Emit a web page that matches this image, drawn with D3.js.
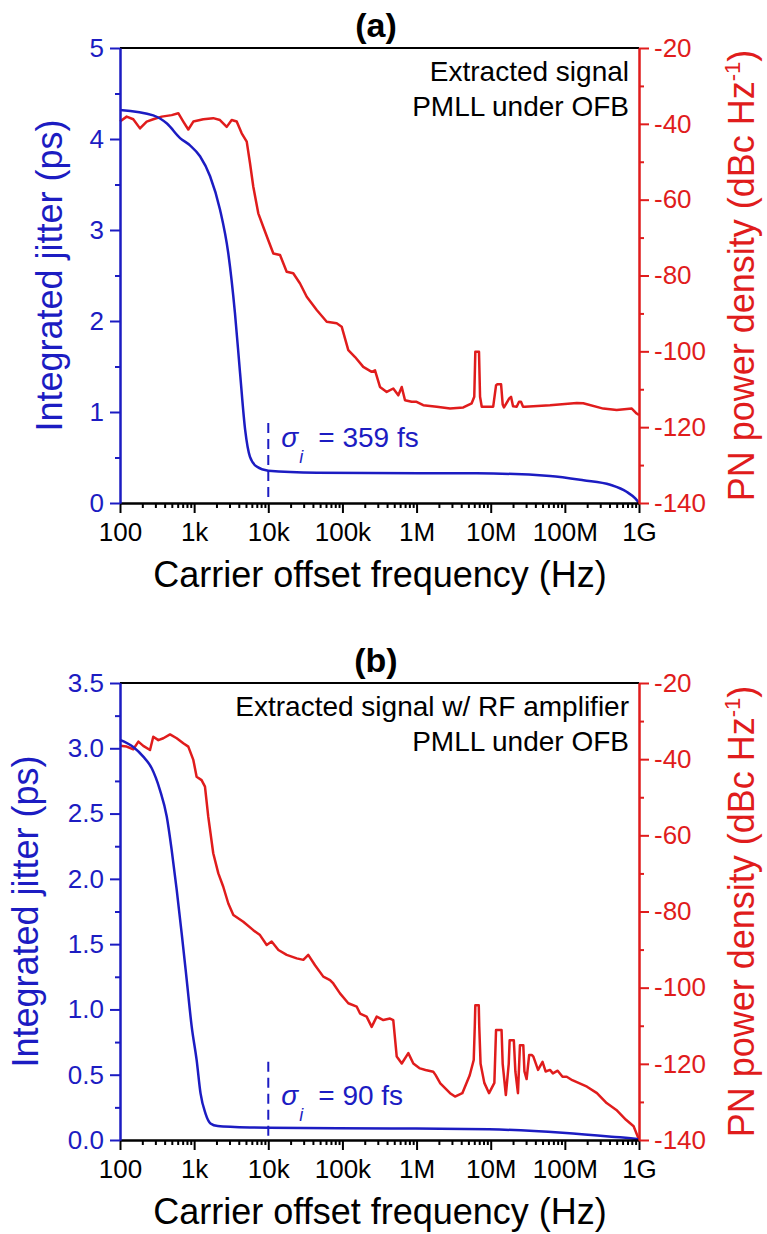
<!DOCTYPE html>
<html>
<head>
<meta charset="utf-8">
<script src="https://cdn.jsdelivr.net/npm/d3@7"></script>
<style>
  body { margin: 0; background: #fff; }
  text { font-family: 'Liberation Sans', Arial, sans-serif; }
</style>
</head>
<body>
<div id="chart"></div>
<script>
// x axis (carrier offset frequency, Hz)
const xTickValues = [1e2, 1e3, 1e4, 1e5, 1e6, 1e7, 1e8, 1e9]
const xTickLabels = ['100', '1k', '10k', '100k', '1M', '10M', '100M', '1G']
const pnTicks = [-140, -120, -100, -80, -60, -40, -20]

// panel (a): [frequency Hz, integrated jitter ps]
const jitterA = [
  [100, 4.32], [281, 4.26], [430, 4.17], [646, 4.01], [880, 3.93], [1200, 3.81],
  [1640, 3.59], [2240, 3.22], [2880, 2.75], [3550, 2.09], [4160, 1.43], [4880, 0.80],
  [5650, 0.51], [6970, 0.40], [1e4, 0.355], [4.5e4, 0.333], [1.1e6, 0.326],
  [6.5e6, 0.326], [6.3e7, 0.297], [1.78e8, 0.25], [4.1e8, 0.20], [6.8e8, 0.124],
  [8.9e8, 0.05], [1e9, 0]
]

// panel (a): [frequency Hz, PN dBc/Hz]
const pnA = [
  [100, -39.4], [123, -38.1], [151, -38.8], [186, -41.2], [229, -39.4], [281, -38.8],
  [365, -38.1], [427, -37.9], [498, -37.7], [611, -37.2], [714, -39.4], [834, -41.5],
  [975, -39.4], [1330, -38.8], [1810, -38.5], [2230, -39.0], [2750, -40.8], [3210, -39.0],
  [3750, -39.4], [4380, -42.5], [5120, -44.7], [5670, -50.4], [6280, -56.6], [7330, -63.6],
  [8570, -67.2], [1e4, -70.7], [11700, -74.2], [14400, -74.6], [17700, -79.0], [21700, -79.4],
  [26800, -82.1], [33000, -85.6], [45000, -89.1], [61400, -92.2], [83700, -92.6], [97700, -93.5],
  [1.2e5, -99.7], [1.48e5, -101.5], [1.91e5, -104.1], [2.48e5, -105.4], [2.75e5, -105],
  [3.21e5, -109.4], [3.96e5, -110.7], [4.85e5, -109.8], [5.67e5, -111.6], [6.31e5, -109.4],
  [6.98e5, -112.9], [8.59e5, -113.3], [1e6, -113.3], [1.23e6, -114.2], [1.87e6, -114.6],
  [2.83e6, -115.1], [4.27e6, -114.8], [5.54e6, -113.7], [6.0e6, -112], [6.2e6, -100.1],
  [6.95e6, -100.1], [7.18e6, -112], [7.57e6, -114.6], [1.08e7, -114.6], [1.18e7, -109],
  [1.22e7, -108.7], [1.38e7, -108.7], [1.45e7, -114], [1.51e7, -114.8], [1.77e7, -112.5],
  [1.88e7, -112], [2.0e7, -114.5], [2.24e7, -114.6], [2.41e7, -113.3], [2.56e7, -113.3],
  [2.73e7, -114.6], [2.9e7, -114.6], [6.3e7, -114.2], [1.45e8, -113.6], [1.77e8, -113.7],
  [3.3e8, -115.1], [5.0e8, -115.5], [8.0e8, -115.1], [9.3e8, -116.4], [1e9, -116.8]
]

// panel (b): [frequency Hz, integrated jitter ps]
const jitterB = [
  [100, 3.064], [151, 3.01], [206, 2.936], [268, 2.847], [346, 2.68], [427, 2.477],
  [498, 2.22], [582, 1.915], [679, 1.583], [794, 1.226], [927, 0.868], [1080, 0.613],
  [1220, 0.357], [1420, 0.204], [1660, 0.127], [2080, 0.107], [3530, 0.10], [10200, 0.094],
  [4.52e5, 0.089], [9.5e6, 0.082], [9.3e7, 0.056], [4.27e8, 0.025], [9.8e8, 0.005], [1e9, 0]
]

// panel (b): [frequency Hz, PN dBc/Hz]
const pnB = [
  [100, -36.5], [123, -36.7], [151, -37.4], [177, -35.4], [206, -36.5], [254, -37.6],
  [281, -34.1], [329, -35.0], [384, -34.5], [473, -33.5], [582, -34.5], [714, -35.8],
  [834, -36.7], [975, -40.2], [1080, -44.6], [1260, -45.5], [1400, -47.2], [1550, -55.1],
  [1810, -64.7], [2120, -70.0], [2470, -73.5], [2890, -77.9], [3380, -80.9], [4600, -82.7],
  [6280, -84.9], [7730, -86.2], [9520, -88.8], [11100, -87.9], [13700, -90.1], [17700, -91.4],
  [24200, -92.3], [29700, -92.7], [34600, -91.4], [42700, -94.1], [55200, -97.1], [68000, -98.0],
  [75300, -98.9], [92700, -101.5], [1.2e5, -104.1], [1.56e5, -105.0], [1.73e5, -106.8],
  [2.12e5, -107.6], [2.48e5, -110.3], [2.9e5, -107.6], [3.56e5, -108.5], [4.38e5, -108.1],
  [4.85e5, -108.5], [5.4e5, -118.1], [6.31e5, -119.9], [7.74e5, -117.2], [9.04e5, -119.9],
  [1.11e6, -121.2], [1.32e6, -121.6], [1.68e6, -122.1], [1.8e6, -122.9], [2.09e6, -125.1],
  [2.83e6, -127.7], [3.3e6, -128.6], [4.14e6, -127.7], [5.21e6, -123], [5.9e6, -119],
  [6.1e6, -110], [6.2e6, -104.6], [6.9e6, -104.6], [7.0e6, -110], [7.3e6, -120],
  [8.2e6, -125], [9.5e6, -127.7], [1.12e7, -125], [1.18e7, -111.1], [1.4e7, -111.1],
  [1.45e7, -120], [1.6e7, -128.2], [1.75e7, -120], [1.8e7, -113.8], [2.05e7, -113.8],
  [2.15e7, -122], [2.33e7, -127.7], [2.42e7, -120], [2.48e7, -115.1], [2.75e7, -115.1],
  [2.85e7, -122], [3.05e7, -124], [3.3e7, -117.7], [3.6e7, -117.7], [3.76e7, -118.1],
  [4.35e7, -121.6], [5.0e7, -119.5], [5.5e7, -122.0], [6.3e7, -121.6], [6.9e7, -122.5],
  [8.0e7, -121.8], [9.3e7, -123.4], [1.06e8, -123.4], [1.26e8, -124.3], [1.99e8, -126.0],
  [2.71e8, -127.7], [3.66e8, -130.3], [4.95e8, -132.1], [6.68e8, -134.7], [8.46e8, -136.4],
  [9.8e8, -139.5], [1e9, -140]
]

const blue = '#1c1cc2'
const red = '#e01c1c'

let svg = d3
  .select('#chart')
  .append('svg')
  .attr('width', 767)
  .attr('height', 1234)
  .style('background', '#fff')

let xPositionScale = d3
  .scaleLog()
  .domain([1e2, 1e9])
  .range([120, 639])

// minor ticks 2..9 in each decade
let xMinor = []
for (let e = 2; e < 9; e++) {
  for (let k = 2; k <= 9; k++) xMinor.push(k * Math.pow(10, e))
}

function styleAxis(g, color) {
  g.attr('font-family', null).attr('font-size', null)
  g.select('.domain').attr('stroke', color).attr('stroke-width', 2)
  g.selectAll('line').attr('stroke', color).attr('stroke-width', 2)
  g.selectAll('text').attr('fill', color).style('font-size', '26px')
}

function drawPanel(p) {
  let yLeft = d3.scaleLinear().domain([0, p.jitterMax]).range([p.bottom, p.top])
  let yRight = d3.scaleLinear().domain([-140, -20]).range([p.bottom, p.top])
  let g = svg.append('g')

  // curves
  let jitterLine = d3
    .line()
    .x(d => xPositionScale(d[0]))
    .y(d => yLeft(d[1]))
    .curve(d3.curveMonotoneX)
  let pnLine = d3
    .line()
    .x(d => xPositionScale(d[0]))
    .y(d => yRight(d[1]))

  g.append('path')
    .datum(p.pn)
    .attr('d', pnLine)
    .attr('fill', 'none')
    .attr('stroke', red)
    .attr('stroke-width', 2.5)
    .attr('stroke-linejoin', 'round')

  g.append('path')
    .datum(p.jitter)
    .attr('d', jitterLine)
    .attr('fill', 'none')
    .attr('stroke', blue)
    .attr('stroke-width', 2.5)

  // dashed marker at 10 kHz
  g.append('line')
    .attr('x1', xPositionScale(1e4))
    .attr('x2', xPositionScale(1e4))
    .attr('y1', yLeft(p.dashTop))
    .attr('y2', yLeft(0))
    .attr('stroke', blue)
    .attr('stroke-width', 2)
    .attr('stroke-dasharray', '10,6')

  // top frame line
  g.append('line')
    .attr('x1', 120)
    .attr('x2', 639)
    .attr('y1', p.top)
    .attr('y2', p.top)
    .attr('stroke', '#000')
    .attr('stroke-width', 2)

  // x axis
  let xMinorAxis = d3.axisBottom(xPositionScale).tickValues(xMinor).tickSize(5).tickSizeOuter(0).tickFormat('')
  g.append('g')
    .attr('transform', 'translate(0,' + p.bottom + ')')
    .call(xMinorAxis)
    .call(a => styleAxis(a, '#000'))

  let xAxis = d3
    .axisBottom(xPositionScale)
    .tickValues(xTickValues)
    .tickSize(10)
    .tickSizeOuter(0)
    .tickPadding(10)
    .tickFormat((d, i) => xTickLabels[i])
  g.append('g')
    .attr('transform', 'translate(0,' + p.bottom + ')')
    .call(xAxis)
    .call(a => styleAxis(a, '#000'))

  // left axis
  let leftMinor = d3.axisLeft(yLeft).tickValues(p.jitterMinor).tickSize(5).tickSizeOuter(0).tickFormat('')
  g.append('g')
    .attr('transform', 'translate(120,0)')
    .call(leftMinor)
    .call(a => styleAxis(a, blue))
  let leftAxis = d3
    .axisLeft(yLeft)
    .tickValues(p.jitterTicks)
    .tickSize(10)
    .tickSizeOuter(0)
    .tickPadding(6)
    .tickFormat(p.jitterFormat)
  g.append('g')
    .attr('transform', 'translate(120,0)')
    .call(leftAxis)
    .call(a => styleAxis(a, blue))

  // right axis
  let rightMinor = d3
    .axisRight(yRight)
    .tickValues([-130, -110, -90, -70, -50, -30])
    .tickSize(5)
    .tickSizeOuter(0)
    .tickFormat('')
  g.append('g')
    .attr('transform', 'translate(639,0)')
    .call(rightMinor)
    .call(a => styleAxis(a, red))
  let rightAxis = d3
    .axisRight(yRight)
    .tickValues(pnTicks)
    .tickSize(10)
    .tickSizeOuter(0)
    .tickPadding(5)
    .tickFormat(d => String(d))
  g.append('g')
    .attr('transform', 'translate(639,0)')
    .call(rightAxis)
    .call(a => styleAxis(a, red))

  // panel label
  g.append('text')
    .attr('x', 376)
    .attr('y', p.top - 11)
    .attr('text-anchor', 'middle')
    .style('font-size', '34px')
    .style('font-weight', 'bold')
    .text(p.label)

  // x axis title
  g.append('text')
    .attr('x', 380)
    .attr('y', p.bottom + 84)
    .attr('text-anchor', 'middle')
    .style('font-size', '36px')
    .text('Carrier offset frequency (Hz)')

  // left axis title
  let mid = (p.top + p.bottom) / 2
  g.append('text')
    .attr('transform', 'translate(' + p.leftTitleX + ',' + mid + ') rotate(-90)')
    .attr('text-anchor', 'middle')
    .attr('fill', blue)
    .style('font-size', '36px')
    .text('Integrated jitter (ps)')

  // right axis title
  let rt = g
    .append('text')
    .attr('transform', 'translate(754,' + mid + ') rotate(-90)')
    .attr('text-anchor', 'middle')
    .attr('fill', red)
    .style('font-size', '36px')
  rt.append('tspan').text('PN power density (dBc Hz')
  rt.append('tspan').attr('dy', -14).style('font-size', '22px').text('-1')
  rt.append('tspan').attr('dy', 14).text(')')

  // annotation lines
  p.notes.forEach((n, i) => {
    g.append('text')
      .attr('x', 629)
      .attr('y', p.top + 33 + i * 35)
      .attr('text-anchor', 'end')
      .style('font-size', '28px')
      .text(n)
  })

  // sigma annotation
  let sx = xPositionScale(1e4)
  let st = g
    .append('text')
    .attr('x', sx + 13)
    .attr('y', p.sigmaY)
    .attr('fill', blue)
    .style('font-size', '28px')
  st.append('tspan').style('font-style', 'italic').text('σ')
  st.append('tspan')
    .attr('dy', 16)
    .attr('dx', 1)
    .style('font-style', 'italic')
    .style('font-size', '18px')
    .text('i')
  st.append('tspan')
    .attr('x', sx + 50)
    .attr('dy', -16)
    .text('= ' + p.sigma + ' fs')
}

drawPanel({
  label: '(a)',
  top: 48,
  bottom: 503,
  jitterMax: 5,
  jitterTicks: [0, 1, 2, 3, 4, 5],
  jitterMinor: [0.5, 1.5, 2.5, 3.5, 4.5],
  jitterFormat: d => String(d),
  jitter: jitterA,
  pn: pnA,
  dashTop: 0.88,
  leftTitleX: 62,
  notes: ['Extracted signal', 'PMLL under OFB'],
  sigma: 359,
  sigmaY: 447
})

drawPanel({
  label: '(b)',
  top: 683,
  bottom: 1140,
  jitterMax: 3.5,
  jitterTicks: [0, 0.5, 1, 1.5, 2, 2.5, 3, 3.5],
  jitterMinor: [0.25, 0.75, 1.25, 1.75, 2.25, 2.75, 3.25],
  jitterFormat: d3.format('.1f'),
  jitter: jitterB,
  pn: pnB,
  dashTop: 0.6,
  leftTitleX: 38,
  notes: ['Extracted signal w/ RF amplifier', 'PMLL under OFB'],
  sigma: 90,
  sigmaY: 1105
})
</script>
</body>
</html>
